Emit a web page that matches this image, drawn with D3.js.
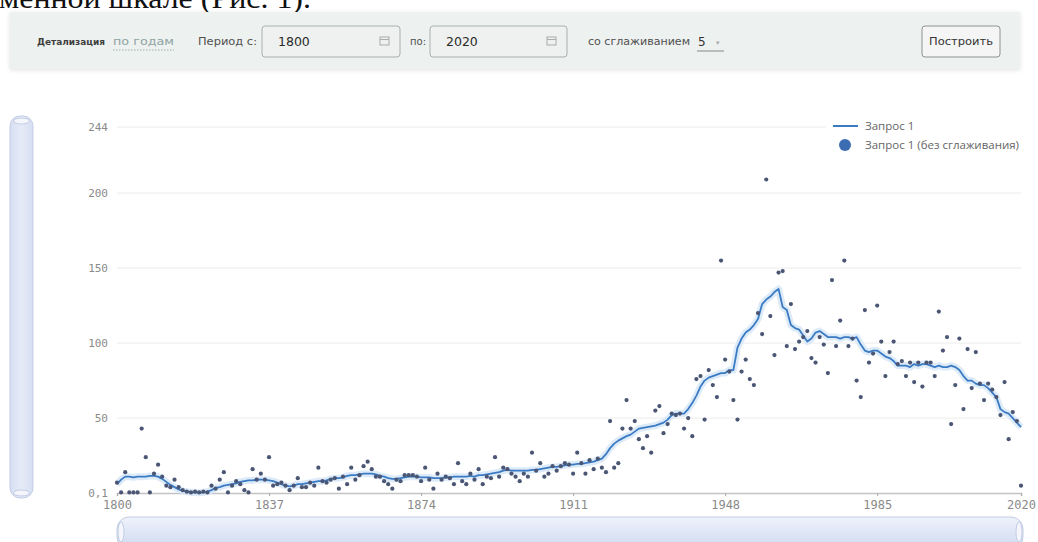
<!DOCTYPE html>
<html><head><meta charset="utf-8">
<script src="https://cdn.jsdelivr.net/npm/d3@7"></script>
<style>
html,body{margin:0;padding:0;background:#fff;overflow:hidden;}
svg{display:block;}
</style></head><body>
<svg id="c" width="1038" height="542"></svg>
<script>
const years = [
1800,1801,1802,1803,1804,1805,1806,1807,1808,1809,
1810,1811,1812,1813,1814,1815,1816,1817,1818,1819,
1820,1821,1822,1823,1824,1825,1826,1827,1828,1829,
1830,1831,1832,1833,1834,1835,1836,1837,1838,1839,
1840,1841,1842,1843,1844,1845,1846,1847,1848,1849,
1850,1851,1852,1853,1854,1855,1856,1857,1858,1859,
1860,1861,1862,1863,1864,1865,1866,1867,1868,1869,
1870,1871,1872,1873,1874,1875,1876,1877,1878,1879,
1880,1881,1882,1883,1884,1885,1886,1887,1888,1889,
1890,1891,1892,1893,1894,1895,1896,1897,1898,1899,
1900,1901,1902,1903,1904,1905,1906,1907,1908,1909,
1910,1911,1912,1913,1914,1915,1916,1917,1918,1919,
1920,1921,1922,1923,1924,1925,1926,1927,1928,1929,
1930,1931,1932,1933,1934,1935,1936,1937,1938,1939,
1940,1941,1942,1943,1944,1945,1946,1947,1948,1949,
1950,1951,1952,1953,1954,1955,1956,1957,1958,1959,
1960,1961,1962,1963,1964,1965,1966,1967,1968,1969,
1970,1971,1972,1973,1974,1975,1976,1977,1978,1979,
1980,1981,1982,1983,1984,1985,1986,1987,1988,1989,
1990,1991,1992,1993,1994,1995,1996,1997,1998,1999,
2000,2001,2002,2003,2004,2005,2006,2007,2008,2009,
2010,2011,2012,2013,2014,2015,2016,2017,2018,2019,
2020];

// "Запрос 1 (без сглаживания)" – raw yearly values
const rawValues = [
7,0.5,14,0.5,0.5,0.5,43,24,0.5,13,
19,11,5,4,9,4,2,1,0.5,1,
0.5,1,0.5,5,3,9,14,0.5,5,8,
6,2,0.5,16,9,13,9,24,5,6,
7,5,2,5,10,4,4,7,5,17,
8,7,9,10,3,11,6,17,9,12,
18,21,16,11,11,8,6,3,9,8,
12,12,12,11,8,17,9,3,13,9,
11,10,6,20,8,6,13,9,16,6,
11,10,24,11,17,16,13,11,8,13,
11,27,15,20,11,13,18,15,18,20,
19,13,27,20,13,22,16,23,17,14,
48,17,20,43,62,43,48,36,30,38,
27,55,58,40,46,53,52,53,43,50,
38,76,78,49,82,72,64,155,89,81,
62,49,81,89,76,72,120,106,209,118,
92,147,148,98,126,96,101,104,108,90,
87,104,99,80,142,98,115,155,98,103,
75,64,122,87,93,125,101,78,94,101,
86,88,78,87,74,87,71,87,87,78,
121,95,104,46,72,103,56,96,70,94,
73,62,73,69,64,52,74,36,54,48,
5];

// "Запрос 1" – smoothed line
const smoothValues = [
6,9,11,11,10.5,11,11,11,11.5,11.5,
11,9.5,7.5,5.5,4,2.5,1.5,1,0.5,0.5,
0.3,0.5,1,2,3.5,4,5,5.5,6,6.5,
7.5,8,8.5,8.5,9,9,9,8.5,8,7,
6,5,4.5,5,6,6,6.5,7,7.5,8,
8,8.5,9.5,10,10,10.5,11.5,12,12,12.5,
13,13,13,12.5,11.5,11,10,9.5,9.5,10,
10.5,11,11,11,10.5,10.5,10.5,10,10,10,
10.5,10.5,11,11,11,11,11.5,11,12,12,
12.5,13,13.5,14,15,15.5,15,15,15,15,
15,15.5,15.5,16,16.5,17,17.5,17.5,18,18.5,
19,19,19.5,19.5,20,20.5,21,22,23,26,
30,33,35,36.5,38,39,41,43,43.5,44,
44.5,45,46,47,49,52,53,53,53,56,
60,65,71,75,77,78,79,80,80,82,
82,97,103,107,109,112,116,126,129,131,
134,136,124,122,112,110,109,105,101,103,
107,108,106,104,104,104,103,104,104,103,
104,99,95,94,95,95,93,91,90,88,
85,85,85,84,86,85,86,86,85,84,
85,84,84,85,84,82,78,75,75,73,
72,72,70,67,64,56,54,53,50,47,
44];

const yTickValues = [0.1, 50, 100, 150, 200, 244];
const yTickLabels = ["0,1", "50", "100", "150", "200", "244"];
const xTickValues = [1800, 1837, 1874, 1911, 1948, 1985, 2020];
const legendLabels = ["Запрос 1", "Запрос 1 (без сглаживания)"];
const controlTexts = {
  detail: "Детализация", detailValue: "по годам", from: "Период с:", fromValue: "1800",
  to: "по:", toValue: "2020", smooth: "со сглаживанием", smoothValue: "5", button: "Построить"
};
const headerText = "менной шкале (Рис. 1).";

const svg = d3.select("#c");
const defs = svg.append("defs");
const g1 = defs.append("linearGradient").attr("id","hs").attr("x1",0).attr("y1",0).attr("x2",0).attr("y2",1);
g1.append("stop").attr("offset","0%").attr("stop-color","#eef2fa");
g1.append("stop").attr("offset","100%").attr("stop-color","#cfdaf0");
const g2 = defs.append("linearGradient").attr("id","vs").attr("x1",0).attr("y1",0).attr("x2",1).attr("y2",0);
g2.append("stop").attr("offset","0%").attr("stop-color","#d6def2");
g2.append("stop").attr("offset","50%").attr("stop-color","#e6ebf8");
g2.append("stop").attr("offset","100%").attr("stop-color","#d6def2");
const blur = defs.append("filter").attr("id","sh").attr("x","-5%").attr("y","-30%").attr("width","110%").attr("height","160%");
blur.append("feGaussianBlur").attr("in","SourceAlpha").attr("stdDeviation",2);
blur.append("feOffset").attr("dx",0).attr("dy",1).attr("result","b");
blur.append("feFlood").attr("flood-color","#000").attr("flood-opacity",0.12);
blur.append("feComposite").attr("in2","b").attr("operator","in");
const mg = blur.append("feMerge"); mg.append("feMergeNode"); mg.append("feMergeNode").attr("in","SourceGraphic");

// header text (cut scan line, as in the reference)
svg.append("text").attr("x",-1).attr("y",8).attr("font-family","Liberation Serif")
  .attr("font-size",30).attr("fill","#111").attr("textLength",312).attr("lengthAdjust","spacingAndGlyphs")
  .text(headerText);

// control panel
const panel = svg.append("g");
panel.append("rect").attr("x",10).attr("y",12).attr("width",1010).attr("height",57)
  .attr("fill","#edf1ef").attr("filter","url(#sh)");
const lab = (x, y, t, opts={}) => {
  const el = panel.append("text").attr("x",x).attr("y",y)
    .attr("font-family","DejaVu Sans").attr("font-size",opts.size||10.5)
    .attr("font-weight",opts.weight||"normal").attr("fill",opts.fill||"#4a4a4a")
    .attr("text-anchor",opts.anchor||"start").text(t);
  if (opts.len) el.attr("textLength",opts.len).attr("lengthAdjust","spacingAndGlyphs");
  return el;
};
lab(37, 45, controlTexts.detail, {fill:"#3d3d3d", weight:"bold", size:9, len:68});
lab(113, 45, controlTexts.detailValue, {fill:"#8fa3a3", size:10.5, len:61});
panel.append("line").attr("x1",113).attr("x2",174).attr("y1",50).attr("y2",50)
  .attr("stroke","#9fb0b0").attr("stroke-dasharray","1.5,1.5");
lab(198, 45, controlTexts.from, {size:10, fill:"#505050", len:59});
function inputBox(x, w, val){
  panel.append("rect").attr("x",x).attr("y",26).attr("width",w).attr("height",31).attr("rx",3)
    .attr("fill","#eef1ef").attr("stroke","#a9b0ae");
  panel.append("text").attr("x",x+16).attr("y",46).attr("font-family","DejaVu Sans").attr("font-size",12.5)
    .attr("fill","#2a2a2a").text(val);
  const ix = x + w - 20;
  panel.append("rect").attr("x",ix).attr("y",37).attr("width",9).attr("height",8).attr("fill","none").attr("stroke","#aaa");
  panel.append("line").attr("x1",ix).attr("x2",ix+9).attr("y1",39.5).attr("y2",39.5).attr("stroke","#aaa");
}
inputBox(262, 138, controlTexts.fromValue);
lab(410, 45, controlTexts.to, {size:10, fill:"#505050"});
inputBox(430, 137, controlTexts.toValue);
lab(588, 45, controlTexts.smooth, {size:10, fill:"#505050", len:102});
lab(698, 46, controlTexts.smoothValue, {size:12, fill:"#333"});
panel.append("line").attr("x1",697).attr("x2",724).attr("y1",51).attr("y2",51).attr("stroke","#888");
lab(716, 45, "▾", {size:7, fill:"#aaa"});
panel.append("rect").attr("x",922).attr("y",26).attr("width",78).attr("height",31).attr("rx",3)
  .attr("fill","#f4f5f4").attr("stroke","#8e9291");
lab(961, 45, controlTexts.button, {size:10.5, fill:"#333", anchor:"middle", len:64});

// scales
const x = d3.scaleLinear().domain([1800, 2020]).range([117, 1021]);
const y = d3.scaleLinear().domain([0.1, 244]).range([493, 127]);

// grid
svg.append("g").selectAll("line").data(yTickValues.filter(v => v > 1)).join("line")
  .attr("x1",117).attr("x2",1021).attr("y1",d=>y(d)).attr("y2",d=>y(d))
  .attr("stroke","#ececec").attr("stroke-width",1);

// y axis
const yAxis = svg.append("g").attr("transform","translate(117,0)")
  .call(d3.axisLeft(y).tickValues(yTickValues).tickFormat((d,i)=>yTickLabels[i]).tickSize(0).tickPadding(9));
yAxis.select(".domain").remove();
yAxis.selectAll("text").attr("font-family","DejaVu Sans Mono").attr("font-size",11).attr("fill","#8a8a8a");

// x axis
const xAxis = svg.append("g").attr("transform","translate(0,493)")
  .call(d3.axisBottom(x).tickValues(xTickValues).tickFormat(d3.format("d")).tickSize(3).tickPadding(4));
xAxis.select(".domain").attr("stroke","#c4c4c4").attr("stroke-width",1.5);
xAxis.selectAll(".tick line").attr("stroke","#aaa");
xAxis.selectAll("text").attr("font-family","DejaVu Sans Mono").attr("font-size",12).attr("fill","#8a8a8a");

// smoothed line
const line = d3.line().x((d,i)=>x(years[i])).y(d=>y(d));
svg.append("path").datum(smoothValues).attr("d",line).attr("fill","none")
  .attr("stroke","#d4e6f8").attr("stroke-width",7).attr("stroke-linejoin","round").attr("opacity",0.8);
svg.append("path").datum(smoothValues).attr("d",line).attr("fill","none")
  .attr("stroke","#3b7bc4").attr("stroke-width",1.8).attr("stroke-linejoin","round");

// raw dots
svg.append("g").selectAll("circle").data(rawValues).join("circle")
  .attr("cx",(d,i)=>x(years[i])).attr("cy",d=>y(d)).attr("r",2.1).attr("fill","#4a5674");

// legend
const lg = svg.append("g");
lg.append("rect").attr("x",826).attr("y",116).attr("width",210).attr("height",38).attr("fill","#fff");
lg.append("line").attr("x1",833).attr("x2",858).attr("y1",126).attr("y2",126).attr("stroke","#3b7bc4").attr("stroke-width",2);
lg.append("circle").attr("cx",845).attr("cy",145).attr("r",6).attr("fill","#3c6db3");
lg.selectAll("text").data(legendLabels).join("text")
  .attr("x",865).attr("y",(d,i)=>129.5 + i*19).attr("font-family","Open Sans").attr("font-size",11.5)
  .attr("fill","#666").text(d=>d);

// vertical scrollbar
svg.append("rect").attr("x",10).attr("y",116).attr("width",23).attr("height",382).attr("rx",10)
  .attr("fill","url(#vs)").attr("stroke","#c3cde4");
svg.append("ellipse").attr("cx",21.5).attr("cy",121).attr("rx",8).attr("ry",3).attr("fill","#f4f6fc").attr("stroke","#c3cde4");
svg.append("ellipse").attr("cx",21.5).attr("cy",493).attr("rx",8).attr("ry",3).attr("fill","#f4f6fc").attr("stroke","#c3cde4");

// horizontal scrollbar
svg.append("rect").attr("x",117).attr("y",517).attr("width",906).attr("height",32).attr("rx",12)
  .attr("fill","url(#hs)").attr("stroke","#c3cde4");
svg.append("ellipse").attr("cx",121).attr("cy",532).attr("rx",3).attr("ry",10).attr("fill","#f4f6fc").attr("stroke","#c3cde4");
svg.append("ellipse").attr("cx",1019).attr("cy",532).attr("rx",3).attr("ry",10).attr("fill","#f4f6fc").attr("stroke","#c3cde4");
</script>
</body></html>
